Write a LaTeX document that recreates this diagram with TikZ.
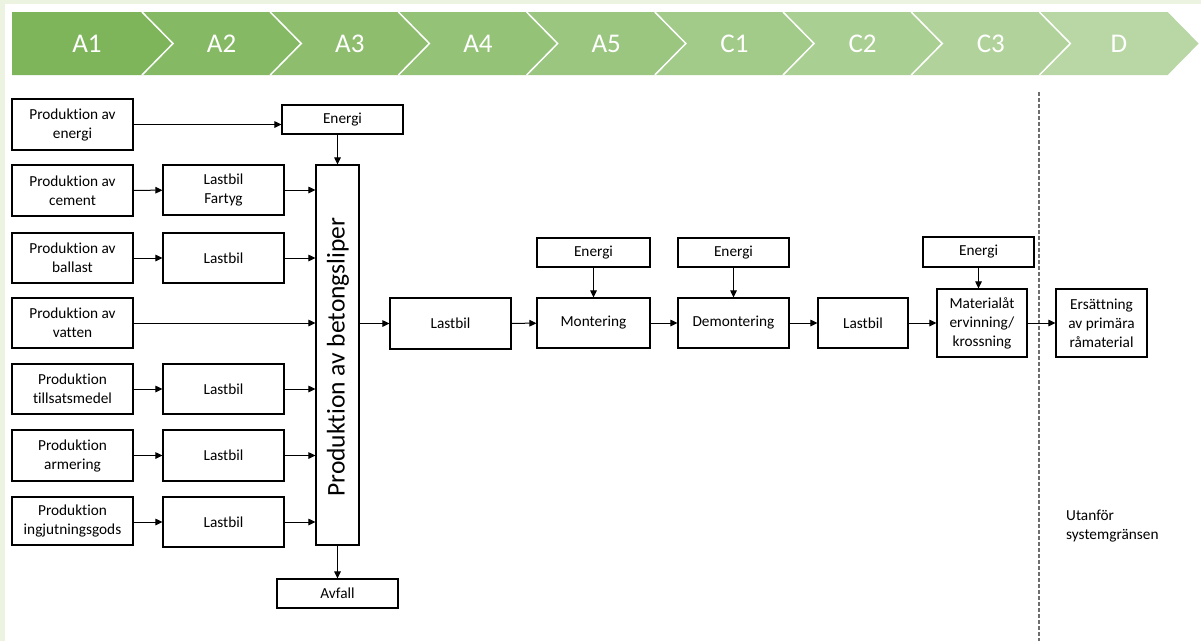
\documentclass[tikz,border=0pt]{standalone}
\usepackage{fontspec}
\setmainfont{Carlito}[Ligatures=NoCommon]
\usetikzlibrary{arrows.meta}
\definecolor{cA}{RGB}{126,181,91}
\definecolor{cD}{RGB}{184,215,164}
\definecolor{frame}{RGB}{236,243,224}
\definecolor{dashgray}{RGB}{110,110,110}
\tikzset{
  pbox/.style={draw=black, line width=1.1pt, fill=white, align=center, inner sep=0pt,
    font=\fontsize{15.3}{19}\selectfont, minimum width=#1},
  pbox/.default=121pt,
  conn/.style={line width=1pt, -{Triangle[length=7pt,width=6.5pt]}},
  chevtext/.style={text=white, font=\fontsize{27}{30}\selectfont}
}
\begin{document}
\begin{tikzpicture}[x=1pt,y=-1pt]
\useasboundingbox (0,0) rectangle (1201,641);
\fill[white] (0,0) rectangle (1201,641);
\fill[frame] (0,0) rectangle (5,641);
\fill[frame] (0,0) rectangle (1201,4);
% chevrons
\foreach \k/\lab in {0/A1,1/A2,2/A3,3/A4,4/A5,5/C1,6/C2,7/C3,8/D}{
  \pgfmathsetmacro{\R}{142+128.2*\k}
  \pgfmathsetmacro{\L}{\R-128.2}
  \pgfmathsetmacro{\p}{100-12.5*\k}
  \ifnum\k=0
    \fill[cA] (12,12) -- (\R,12) -- (\R+31,43.5) -- (\R,75) -- (12,75) -- cycle;
    \node[chevtext] (chev\k) at (87,43.5) {\lab};
  \else
    \fill[cA!\p!cD] (\L,12) -- (\R,12) -- (\R+31,43.5) -- (\R,75) -- (\L,75) -- (\L+31,43.5) -- cycle;
    \draw[white, line width=1.5pt] (\L,12) -- (\L+31,43.5) -- (\L,75);
    \node[chevtext] (chev\k) at ({(\L+\R)/2+15.5},43.5) {\lab};
  \fi
}
% left column
\node[pbox, minimum height=51pt] (pe) at (72.5,124.5) {Produktion av\\energi};
\node[pbox, minimum height=51pt] (pc) at (72.5,190.5) {Produktion av\\cement};
\node[pbox, minimum height=50pt] (pb) at (72.5,258) {Produktion av\\ballast};
\node[pbox, minimum height=50pt] (pv) at (72.5,323) {Produktion av\\vatten};
\node[pbox, minimum height=50pt] (pt) at (72.5,389) {Produktion\\tillsatsmedel};
\node[pbox, minimum height=51pt] (pa) at (72.5,455.5) {Produktion\\armering};
\node[pbox, minimum height=48pt] (pi) at (72.5,521) {Produktion\\ingjutningsgods};
% transport column
\node[pbox, minimum height=50pt] (lf) at (223.5,190) {Lastbil\\Fartyg};
\node[pbox, minimum height=50pt] (lb1) at (223.5,258) {Lastbil};
\node[pbox, minimum height=50pt] (lb2) at (223.5,389) {Lastbil};
\node[pbox, minimum height=51pt] (lb3) at (223.5,455.5) {Lastbil};
\node[pbox, minimum height=50pt] (lb4) at (223.5,522) {Lastbil};
% energy + big box
\node[pbox, minimum height=29pt] (en1) at (342.5,119.5) {Energi};
\node[draw=black, line width=1.1pt, fill=white, minimum width=43pt, minimum height=380pt, inner sep=0pt] (big) at (337.5,355) {};
\node[rotate=90, font=\fontsize{25.5}{30}\selectfont] (bigtxt) at (338,357) {Produktion av betongsliper};
\node[pbox, minimum height=29pt] (avf) at (337.5,593.5) {Avfall};
% main chain
\node[pbox, minimum height=51pt] (lb5) at (450.5,323.5) {Lastbil};
\node[pbox=113pt, minimum height=50pt] (mon) at (593.5,323) {Montering};
\node[pbox=113pt, minimum height=29pt] (en2) at (593.5,252.5) {Energi};
\node[pbox=111pt, minimum height=50pt] (dem) at (733.5,323) {Demontering};
\node[pbox=111pt, minimum height=29pt] (en3) at (733.5,252.5) {Energi};
\node[pbox=90pt, minimum height=50pt] (lb6) at (863,323) {Lastbil};
\node[pbox=90pt, minimum height=68pt] (mat) at (982,323) {Materialåt\\ervinning/\\krossning};
\node[pbox=111pt, minimum height=30pt] (en4) at (978.5,252) {Energi};
\node[pbox=91pt, minimum height=68pt] (ers) at (1101.5,323) {Ersättning\\av primära\\råmaterial};
% system boundary
\coordinate (bt) at (1038.5,92);
\coordinate (bb) at (1038.5,641);
\draw[dashgray, line width=2pt, dash pattern=on 4pt off 2pt] (bt) -- (bb);
\node[anchor=west, align=left, inner sep=0pt, font=\fontsize{15.3}{19}\selectfont] (utf) at (1066,526) {Utanför\\systemgränsen};
% connectors
\draw[conn] (pe.east) -- (pe.east -| en1.west);
\draw[conn] (big.north |- en1.south) -- (big.north);
\draw[conn] (pc) -- (lf);
\draw[conn] (lf) -- (lf -| big.west);
\draw[conn] (pb) -- (lb1);
\draw[conn] (lb1) -- (lb1 -| big.west);
\draw[conn] (pv) -- (pv -| big.west);
\draw[conn] (pt) -- (lb2);
\draw[conn] (lb2) -- (lb2 -| big.west);
\draw[conn] (pa) -- (lb3);
\draw[conn] (lb3) -- (lb3 -| big.west);
\draw[conn] (pi.east |- lb4.west) -- (lb4.west);
\draw[conn] (lb4) -- (lb4 -| big.west);
\draw[conn] (big.south) -- (avf.north -| big.south);
\draw[conn] (big.east |- lb5.west) -- (lb5.west);
\draw[conn] (lb5) -- (mon);
\draw[conn] (mon) -- (dem);
\draw[conn] (dem) -- (lb6);
\draw[conn] (lb6) -- (mat);
\draw[conn] (mat) -- (ers);
\draw[conn] (en2) -- (mon);
\draw[conn] (en3) -- (dem);
\draw[conn] (en4.south) -- (en4.south |- mat.north);
\end{tikzpicture}
\end{document}
